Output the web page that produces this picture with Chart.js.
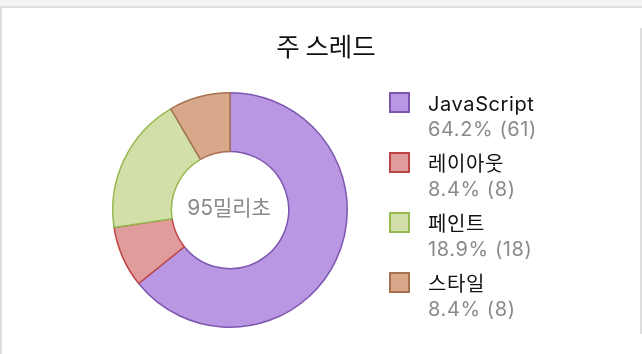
<!DOCTYPE html>
<html>
<head>
<meta charset="utf-8">
<script src="https://cdn.jsdelivr.net/npm/chart.js@4/dist/chart.umd.min.js"></script>
<style>
  html, body { margin: 0; padding: 0; background: #fff; width: 642px; height: 354px; overflow: hidden; position: relative; font-family: Inter, "Noto Sans CJK KR", sans-serif; }
  #topbar { position: absolute; left: 0; top: 0; width: 642px; height: 6px; background: #f3f3f3; border-bottom: 2px solid #dedede; }
  #leftline { position: absolute; left: 0; top: 8px; width: 2px; height: 346px; background: #dedede; }
  #rightline { position: absolute; left: 640px; top: 28px; width: 2px; height: 306px; background: #dedede; }
  #c { position: absolute; left: 0; top: 0; }
  #title { position: absolute; left: 226px; width: 200px; top: 29px; text-align: center; font-size: 25.5px; color: #111; line-height: 32px; font-family: "Noto Sans CJK KR", sans-serif; }
  #legend { position: absolute; left: 389px; top: 92px; }
  .item { position: absolute; left: 0; height: 50px; width: 240px; }
  .sw { position: absolute; left: 0; top: 0; width: 21px; height: 21px; box-sizing: border-box; border: 2px solid; }
  .l1 { position: absolute; left: 39px; top: 0; font-size: 20px; letter-spacing: 0.6px; line-height: 25px; color: #111; white-space: nowrap; }
  .l2 { position: absolute; left: 39px; top: 25px; font-size: 20px; letter-spacing: 0.6px; line-height: 25px; color: #8a8a8a; white-space: nowrap; }
</style>
</head>
<body>
<div id="topbar"></div>
<div id="leftline"></div>
<div id="rightline"></div>
<canvas id="c" width="642" height="354"></canvas>
<div id="title">주 스레드</div>
<div id="legend"></div>
<script>
const titleText = "주 스레드";
const centerText = "95밀리초";
const categories = ["JavaScript", "레이아웃", "페인트", "스타일"];
const values = [61, 8, 18, 8];
const percents = ["64.2%", "8.4%", "18.9%", "8.4%"];
const fillColors = ["rgb(185,151,227)", "rgb(224,155,155)", "rgb(211,223,169)", "rgb(216,168,138)"];
const borderColors = ["rgb(125,86,176)", "rgb(190,68,68)", "rgb(150,185,80)", "rgb(166,114,80)"];

document.getElementById('title').textContent = titleText;

const centerPlugin = {
  id: 'centerText',
  afterDraw(chart) {
    const meta = chart.getDatasetMeta(0);
    if (!meta.data.length) return;
    const arc = meta.data[0];
    const ctx = chart.ctx;
    ctx.save();
    ctx.font = '21px Inter, "Noto Sans CJK KR", sans-serif';
    ctx.fillStyle = '#8a8a8a';
    ctx.textAlign = 'center';
    ctx.textBaseline = 'middle';
    ctx.fillText(centerText, arc.x - 1, arc.y - 1);
    ctx.restore();
  }
};

new Chart(document.getElementById('c'), {
  type: 'doughnut',
  data: {
    labels: categories,
    datasets: [{
      data: values,
      backgroundColor: fillColors,
      borderColor: borderColors,
      borderWidth: 1.5,
      hoverOffset: 0
    }]
  },
  options: {
    responsive: false,
    animation: false,
    cutout: '50%',
    layout: { padding: { left: 112, right: 294, top: 92, bottom: 26 } },
    plugins: {
      legend: { display: false },
      title: { display: false },
      tooltip: { enabled: false }
    }
  },
  plugins: [centerPlugin]
});

const legend = document.getElementById('legend');
categories.forEach((name, i) => {
  const item = document.createElement('div');
  item.className = 'item';
  item.style.top = (i * 60) + 'px';
  const sw = document.createElement('div');
  sw.className = 'sw';
  sw.style.background = fillColors[i];
  sw.style.borderColor = borderColors[i];
  const l1 = document.createElement('div');
  l1.className = 'l1';
  l1.textContent = name;
  const l2 = document.createElement('div');
  l2.className = 'l2';
  l2.textContent = percents[i] + ' (' + values[i] + ')';
  item.appendChild(sw); item.appendChild(l1); item.appendChild(l2);
  legend.appendChild(item);
});
</script>
</body>
</html>
